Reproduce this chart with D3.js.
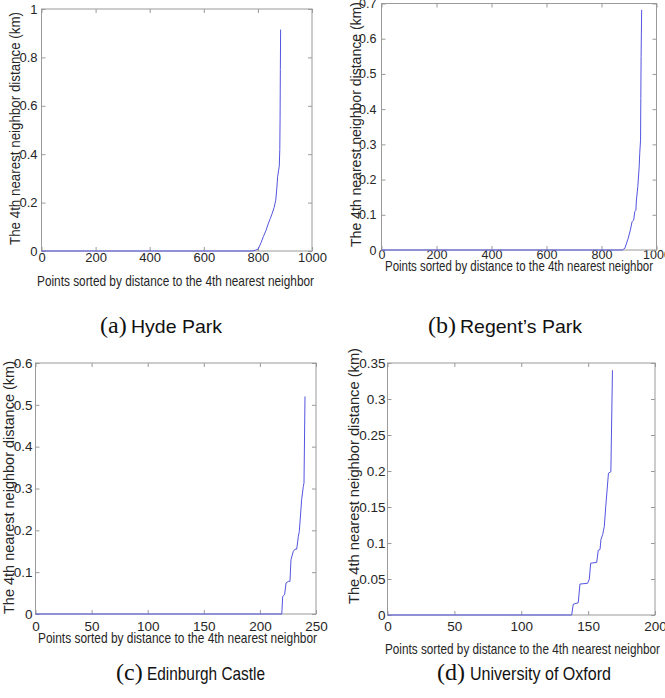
<!DOCTYPE html>
<html>
<head>
<meta charset="utf-8">
<script src="https://cdn.jsdelivr.net/npm/d3@7"></script>
<style>
  body { margin: 0; background: #fff; }
  svg { display: block; font-family: "Liberation Sans", Arial, sans-serif; }
  .box { fill: none; stroke: #9a9a9a; stroke-width: 1; }
  .axis { color: #9a9a9a; }
  .axis .domain { display: none; }
  .axis text { fill: #262626; }
  .lbl { fill: #262626; }
  .caption { fill: #111; }
</style>
</head>
<body>
<svg id="chart" width="665" height="698"></svg>
<script>
// sorted 4th-nearest-neighbour distance curves (rank, km)
const hydeRank = [0, 778, 790, 801, 812, 820, 830, 838, 846, 853, 860, 866, 870, 873, 876, 879, 881, 882, 883, 884];
const hydeDist = [0, 0, 0.003, 0.008, 0.035, 0.059, 0.085, 0.112, 0.135, 0.156, 0.18, 0.21, 0.26, 0.307, 0.33, 0.35, 0.42, 0.55, 0.75, 0.915];

const regentRank = [0, 876, 885, 897, 905, 911, 917, 921, 925, 927, 932, 937, 939, 942, 943, 944, 946];
const regentDist = [0, 0, 0.005, 0.033, 0.057, 0.08, 0.085, 0.109, 0.113, 0.142, 0.18, 0.236, 0.274, 0.312, 0.43, 0.55, 0.682];

const edinRank = [0, 219.5, 220.3, 222, 223.3, 225.4, 226.8, 227.7, 229.8, 231.3, 232.8, 234.3, 235.1, 237.2, 238.7, 239.3, 240.2];
const edinDist = [0, 0, 0.042, 0.046, 0.074, 0.078, 0.078, 0.13, 0.15, 0.155, 0.155, 0.186, 0.197, 0.273, 0.305, 0.313, 0.52];

const oxfordRank = [0, 134.7, 137.7, 138.9, 142.6, 143.9, 149.6, 150.9, 151.9, 156.4, 157.6, 158.9, 159.6, 160.9, 162.1, 163.2, 165.2, 167, 168.2];
const oxfordDist = [0, 0, 0, 0.015, 0.017, 0.043, 0.044, 0.05, 0.072, 0.073, 0.09, 0.091, 0.105, 0.112, 0.123, 0.151, 0.197, 0.199, 0.34];

// tick labels
const xTicks1000 = [0, 200, 400, 600, 800, 1000];
const xTicks250 = [0, 50, 100, 150, 200, 250];
const xTicks200 = [0, 50, 100, 150, 200];
const hydeYTicks = [0, 0.2, 0.4, 0.6, 0.8, 1];
const regentYTicks = [0, 0.1, 0.2, 0.3, 0.4, 0.5, 0.6, 0.7];
const edinYTicks = [0, 0.1, 0.2, 0.3, 0.4, 0.5, 0.6];
const oxfordYTicks = [0, 0.05, 0.1, 0.15, 0.2, 0.25, 0.3, 0.35];

const tags = ["(a)", "(b)", "(c)", "(d)"];
const names = ["Hyde Park", "Regent\u2019s Park", "Edinburgh Castle", "University of Oxford"];

const xLabel = "Points sorted by distance to the 4th nearest neighbor";
const yLabel = "The 4th nearest neighbor distance (km)";

const panels = [
    { rank: hydeRank, dist: hydeDist, xMax: 1000, xTicks: xTicks1000, yMax: 1, yTicks: hydeYTicks,
      left: 41.5, right: 312, top: 9, bottom: 251, tickFont: 13, xPad: 2, yPad: 4,
      xl: [175.5, 286, 277], yl: [15.5, 128.5, 233], cap: [100, 131, 91, 333] },
    { rank: regentRank, dist: regentDist, xMax: 1000, xTicks: xTicks1000, yMax: 0.7, yTicks: regentYTicks,
      left: 381.5, right: 656.5, top: 3.5, bottom: 250, tickFont: 12.5, xPad: 0, yPad: 5,
      xl: [519, 271, 268], yl: [356, 124.5, 245], cap: [428, 460, 122, 333] },
    { rank: edinRank, dist: edinDist, xMax: 250, xTicks: xTicks250, yMax: 0.6, yTicks: edinYTicks,
      left: 35.5, right: 316, top: 363, bottom: 614, tickFont: 13.5, xPad: 7, yPad: 3,
      xl: [177.5, 643, 279], yl: [9, 487.5, 253], cap: [116, 147, 118, 680] },
    { rank: oxfordRank, dist: oxfordDist, xMax: 200, xTicks: xTicks200, yMax: 0.35, yTicks: oxfordYTicks,
      left: 387.5, right: 655, top: 363, bottom: 615, tickFont: 13.5, xPad: 6, yPad: 2,
      xl: [522.5, 654, 275], yl: [354, 476, 256], cap: [437, 470, 141, 680] }
];

const svg = d3.select("#chart");
const fmt = d => String(+d.toFixed(2));

panels.forEach((p, i) => drawPanel(svg, p, i));

function drawPanel(svg, p, i) {
    const x = d3.scaleLinear().domain([0, p.xMax]).range([p.left, p.right]);
    const y = d3.scaleLinear().domain([0, p.yMax]).range([p.bottom, p.top]);
    const g = svg.append("g");

    // bottom + left axes with labels, ticks pointing inward like matlab
    g.append("g")
        .attr("class", "axis")
        .attr("transform", `translate(0,${p.bottom})`)
        .call(d3.axisBottom(x).tickValues(p.xTicks).tickFormat(fmt)
            .tickSizeInner(-4).tickSizeOuter(0).tickPadding(p.xPad))
        .attr("font-family", null)
        .attr("font-size", p.tickFont);

    g.append("g")
        .attr("class", "axis")
        .attr("transform", `translate(${p.left},0)`)
        .call(d3.axisLeft(y).tickValues(p.yTicks).tickFormat(fmt)
            .tickSizeInner(-4).tickSizeOuter(0).tickPadding(p.yPad))
        .attr("font-family", null)
        .attr("font-size", p.tickFont);

    // top + right ticks, no labels
    g.append("g")
        .attr("class", "axis")
        .attr("transform", `translate(0,${p.top})`)
        .call(d3.axisTop(x).tickValues(p.xTicks).tickFormat("").tickSizeInner(-4).tickSizeOuter(0));

    g.append("g")
        .attr("class", "axis")
        .attr("transform", `translate(${p.right},0)`)
        .call(d3.axisRight(y).tickValues(p.yTicks).tickFormat("").tickSizeInner(-4).tickSizeOuter(0));

    g.append("rect")
        .attr("class", "box")
        .attr("x", p.left)
        .attr("y", p.top)
        .attr("width", p.right - p.left)
        .attr("height", p.bottom - p.top);

    const line = d3.line()
        .x(d => x(d[0]))
        .y(d => y(d[1]));

    g.append("path")
        .datum(d3.zip(p.rank, p.dist))
        .attr("fill", "none")
        .attr("stroke", "#5454e0")
        .attr("stroke-width", 1)
        .attr("d", line);

    g.append("text")
        .attr("class", "lbl")
        .attr("x", p.xl[0])
        .attr("y", p.xl[1])
        .attr("text-anchor", "middle")
        .attr("font-size", 15)
        .attr("textLength", p.xl[2])
        .attr("lengthAdjust", "spacingAndGlyphs")
        .text(xLabel);

    g.append("text")
        .attr("class", "lbl")
        .attr("transform", `translate(${p.yl[0]},${p.yl[1]}) rotate(-90)`)
        .attr("dy", "0.35em")
        .attr("text-anchor", "middle")
        .attr("font-size", 14)
        .attr("textLength", p.yl[2])
        .attr("lengthAdjust", "spacingAndGlyphs")
        .text(yLabel);

    // caption: serif letter tag + sans name
    g.append("text")
        .attr("class", "caption")
        .attr("x", p.cap[0])
        .attr("y", p.cap[3])
        .attr("font-family", "'Liberation Serif', 'DejaVu Serif', serif")
        .attr("font-size", 24)
        .text(tags[i]);

    g.append("text")
        .attr("class", "caption")
        .attr("x", p.cap[1])
        .attr("y", p.cap[3])
        .attr("font-size", 19)
        .attr("textLength", p.cap[2])
        .attr("lengthAdjust", "spacingAndGlyphs")
        .text(names[i]);
}
</script>
</body>
</html>
